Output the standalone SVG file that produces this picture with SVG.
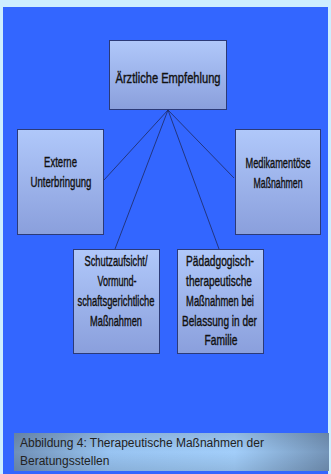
<svg xmlns="http://www.w3.org/2000/svg" width="331" height="474" viewBox="0 0 331 474">
<defs>
<linearGradient id="boxg" x1="0" y1="0" x2="0" y2="1">
<stop offset="0" stop-color="#b0c8fa"/>
<stop offset="1" stop-color="#8a9fdc"/>
</linearGradient>
<linearGradient id="capg" x1="0" y1="0" x2="1" y2="0">
<stop offset="0" stop-color="#7090b6"/>
<stop offset="0.3" stop-color="#98c4f2"/>
<stop offset="0.7" stop-color="#a2cefa"/>
<stop offset="1" stop-color="#7494b8"/>
</linearGradient>
<linearGradient id="capv" x1="0" y1="0" x2="0" y2="1">
<stop offset="0" stop-color="#000000" stop-opacity="0.1"/>
<stop offset="0.5" stop-color="#000000" stop-opacity="0"/>
<stop offset="1" stop-color="#000000" stop-opacity="0.1"/>
</linearGradient>
</defs>
<style>
.box{fill:url(#boxg);stroke:#2b3a78;stroke-width:1}
.t{font-family:"Liberation Sans",Arial,sans-serif;font-size:15px;fill:#111111;stroke:#111111;stroke-width:0.4;text-anchor:middle}
.cap{font-family:"Liberation Sans",Arial,sans-serif;font-size:12px;fill:#222222}
.conn line{stroke:#1e2a60;stroke-width:0.8}
</style>
<rect x="0" y="0" width="331" height="474" fill="#cdeeff"/>
<rect x="3" y="7" width="325" height="467" fill="#3366ff"/>
<g class="conn" id="connectors">
<line x1="168" y1="110" x2="104" y2="180"/>
<line x1="168" y1="110" x2="234" y2="178"/>
<line x1="168" y1="110" x2="115" y2="249"/>
<line x1="168" y1="110" x2="219" y2="249"/>
</g>
<g id="n-aerztlich">
<rect class="box" x="109.5" y="40.5" width="117" height="69"/>
<text class="t" transform="matrix(0.7,0,0,1,168,83)" textLength="150" lengthAdjust="spacingAndGlyphs">Ärztliche Empfehlung</text>
</g>
<g id="n-extern">
<rect class="box" x="17.5" y="129.5" width="86" height="105"/>
<text class="t" transform="matrix(0.7,0,0,1,60.5,167)" textLength="47" lengthAdjust="spacingAndGlyphs">Externe</text>
<text class="t" transform="matrix(0.7,0,0,1,61,187)" textLength="87" lengthAdjust="spacingAndGlyphs">Unterbringung</text>
</g>
<g id="n-medik">
<rect class="box" x="235.5" y="129.5" width="85" height="105"/>
<text class="t" transform="matrix(0.7,0,0,1,278,168)" textLength="93" lengthAdjust="spacingAndGlyphs">Medikamentöse</text>
<text class="t" transform="matrix(0.7,0,0,1,278,188)" textLength="70" lengthAdjust="spacingAndGlyphs">Maßnahmen</text>
</g>
<g id="n-schutz">
<rect class="box" x="73.5" y="249.5" width="86" height="104"/>
<text class="t" transform="matrix(0.7,0,0,1,116,266)" textLength="90" lengthAdjust="spacingAndGlyphs">Schutzaufsicht/</text>
<text class="t" transform="matrix(0.7,0,0,1,117,286)" textLength="56" lengthAdjust="spacingAndGlyphs">Vormund-</text>
<text class="t" transform="matrix(0.7,0,0,1,116,306)" textLength="110" lengthAdjust="spacingAndGlyphs">schaftsgerichtliche</text>
<text class="t" transform="matrix(0.7,0,0,1,116,326)" textLength="74" lengthAdjust="spacingAndGlyphs">Maßnahmen</text>
</g>
<g id="n-paed">
<rect class="box" x="177.5" y="249.5" width="86" height="104"/>
<text class="t" transform="matrix(0.7,0,0,1,220,266)" textLength="97" lengthAdjust="spacingAndGlyphs">Pädadgogisch-</text>
<text class="t" transform="matrix(0.7,0,0,1,219,286)" textLength="94" lengthAdjust="spacingAndGlyphs">therapeutische</text>
<text class="t" transform="matrix(0.7,0,0,1,220,306)" textLength="97" lengthAdjust="spacingAndGlyphs">Maßnahmen bei</text>
<text class="t" transform="matrix(0.7,0,0,1,219.5,326)" textLength="107" lengthAdjust="spacingAndGlyphs">Belassung in der</text>
<text class="t" transform="matrix(0.7,0,0,1,221,345)" textLength="47" lengthAdjust="spacingAndGlyphs">Familie</text>
</g>
<g id="caption">
<rect x="14" y="433" width="315" height="38" fill="url(#capg)"/>
<rect x="14" y="433" width="315" height="38" fill="url(#capv)"/>
<text class="cap" x="20" y="447">Abbildung 4: Therapeutische Maßnahmen der</text>
<text class="cap" x="20" y="465">Beratungsstellen</text>
</g>
</svg>
